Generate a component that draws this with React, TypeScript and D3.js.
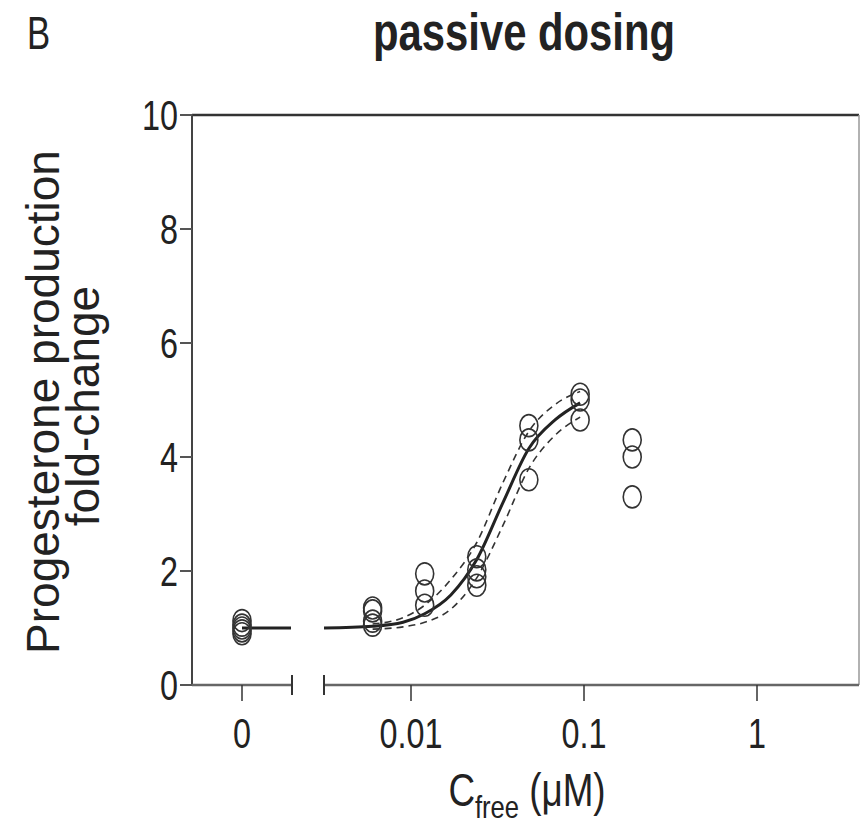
import React from "react";
import * as d3 from "d3";

// ---- data ----
const zeroReplicates = [0.9, 0.95, 1.0, 1.05, 1.13];
const zeroFitValue = 1.0;
const concentrations = [0.006, 0.012, 0.024, 0.048, 0.095, 0.19];
const replicates = [
  [1.05, 1.12, 1.3, 1.35],
  [1.4, 1.65, 1.95],
  [1.75, 1.9, 2.02, 2.25],
  [3.6, 4.3, 4.55],
  [4.65, 5.0, 5.1],
  [3.3, 4.0, 4.3],
];
const fitX = [0.0031, 0.006, 0.009, 0.012, 0.017, 0.024, 0.034, 0.048, 0.068, 0.095];
const fitY = [1.0, 1.03, 1.1, 1.25, 1.58, 2.2, 3.2, 4.15, 4.65, 4.95];
const bandX = [0.006, 0.009, 0.012, 0.017, 0.024, 0.034, 0.048, 0.068, 0.095];
const upperY = [1.07, 1.18, 1.4, 1.85, 2.5, 3.55, 4.45, 4.92, 5.15];
const lowerY = [0.98, 1.02, 1.1, 1.33, 1.88, 2.8, 3.8, 4.38, 4.7];
const yTicks = [0, 2, 4, 6, 8, 10];
const xTicks = [0.01, 0.1, 1];
const xTickLabels = ["0.01", "0.1", "1"];
const zeroLabel = "0";
const title = "passive dosing";
const panelLabel = "B";
const yLabel1 = "Progesterone production";
const yLabel2 = "fold-change";

// ---- layout ----
const W = 860, H = 831;
const axisX = 192, top = 115, bottom = 685, right = 859;
const zeroX = 242, breakL = 292, breakR = 324;
const FONT = "'Liberation Sans', Arial, Helvetica, sans-serif";
const INK = "#222";

export default function App() {
  const y = d3.scaleLinear().domain([0, 10]).range([bottom, top]);
  const x = d3.scaleLog().domain([0.01, 1]).range([411, 757]);
  const xMin = x.invert(breakR);

  const line = d3
    .line<[number, number]>()
    .x((d) => x(d[0]))
    .y((d) => y(d[1]))
    .curve(d3.curveMonotoneX);

  const fitPath = line(fitX.map((v, i) => [Math.max(v, xMin), fitY[i]] as [number, number])) || "";
  const upPath = line(bandX.map((v, i) => [v, upperY[i]] as [number, number])) || "";
  const loPath = line(bandX.map((v, i) => [v, lowerY[i]] as [number, number])) || "";

  const sx = 0.77;

  return (
    <svg
      width={W}
      height={H}
      style={{ position: "absolute", left: 0, top: 0, background: "#fff" }}
      fontFamily={FONT}
    >
      <rect width={W} height={H} fill="#fff" />
      {/* panel label */}
      <text transform={`translate(27,49) scale(0.74,1)`} fontSize={47} fill={INK}>
        {panelLabel}
      </text>
      {/* title */}
      <text
        transform={`translate(524,50) scale(0.82,1)`}
        fontSize={51}
        fontWeight="bold"
        textAnchor="middle"
        fill={INK}
      >
        {title}
      </text>

      {/* frame */}
      <line x1={axisX} x2={right} y1={top} y2={top} stroke="#333" strokeWidth={2.5} />
      <line x1={right} x2={right} y1={top} y2={bottom} stroke="#999" strokeWidth={1.5} />
      <line x1={axisX} x2={axisX} y1={top - 1} y2={bottom} stroke="#444" strokeWidth={2} />

      {/* y ticks */}
      {yTicks.map((t) => (
        <g key={t}>
          <line x1={axisX - 12} x2={axisX} y1={y(t)} y2={y(t)} stroke="#555" strokeWidth={2} />
          <text
            transform={`translate(178,${y(t) + 15}) scale(${sx},1)`}
            fontSize={42}
            textAnchor="end"
            fill={INK}
          >
            {t}
          </text>
        </g>
      ))}

      {/* x axis segments */}
      <line x1={axisX} x2={breakL} y1={bottom} y2={bottom} stroke="#666" strokeWidth={2.5} />
      <line x1={breakR} x2={right} y1={bottom} y2={bottom} stroke="#666" strokeWidth={2.5} />
      <line x1={breakL} x2={breakL} y1={bottom - 10} y2={bottom + 10} stroke="#333" strokeWidth={2} />
      <line x1={breakR} x2={breakR} y1={bottom - 10} y2={bottom + 10} stroke="#333" strokeWidth={2} />
      <line x1={zeroX} x2={zeroX} y1={bottom} y2={bottom + 16} stroke="#333" strokeWidth={1.5} />
      <text
        transform={`translate(${zeroX},748) scale(${sx},1)`}
        fontSize={42}
        textAnchor="middle"
        fill={INK}
      >
        {zeroLabel}
      </text>
      {xTicks.map((t, i) => (
        <g key={t}>
          <line x1={x(t)} x2={x(t)} y1={bottom} y2={bottom + 16} stroke="#333" strokeWidth={1.5} />
          <text
            transform={`translate(${x(t)},748) scale(${sx},1)`}
            fontSize={42}
            textAnchor="middle"
            fill={INK}
          >
            {xTickLabels[i]}
          </text>
        </g>
      ))}

      {/* x label */}
      <text transform={`translate(527,806) scale(0.8,1)`} fontSize={46} textAnchor="middle" fill={INK}>
        <tspan>C</tspan>
        <tspan fontSize={32} dy={12}>free</tspan>
        <tspan dy={-12}> (μM)</tspan>
      </text>

      {/* y label */}
      <text
        transform={`translate(59,402) rotate(-90)`}
        fontSize={46}
        textAnchor="middle"
        fill={INK}
      >
        {yLabel1}
      </text>
      <text
        transform={`translate(99,406) rotate(-90)`}
        fontSize={46}
        textAnchor="middle"
        fill={INK}
      >
        {yLabel2}
      </text>

      {/* fit lines */}
      <line
        x1={zeroX}
        x2={breakL - 1}
        y1={y(zeroFitValue)}
        y2={y(zeroFitValue)}
        stroke={INK}
        strokeWidth={3}
      />
      <path d={upPath} fill="none" stroke="#333" strokeWidth={1.6} strokeDasharray="7,5" />
      <path d={loPath} fill="none" stroke="#333" strokeWidth={1.6} strokeDasharray="7,5" />
      <path d={fitPath} fill="none" stroke={INK} strokeWidth={3} />

      {/* points */}
      {zeroReplicates.map((v, i) => (
        <ellipse key={"z" + i} cx={zeroX} cy={y(v)} rx={9} ry={11} fill="none" stroke="#333" strokeWidth={1.6} />
      ))}
      {concentrations.map((c, gi) =>
        replicates[gi].map((v, i) => (
          <ellipse
            key={gi + "-" + i}
            cx={x(c)}
            cy={y(v)}
            rx={9}
            ry={11}
            fill="none"
            stroke="#333"
            strokeWidth={1.6}
          />
        ))
      )}
    </svg>
  );
}
